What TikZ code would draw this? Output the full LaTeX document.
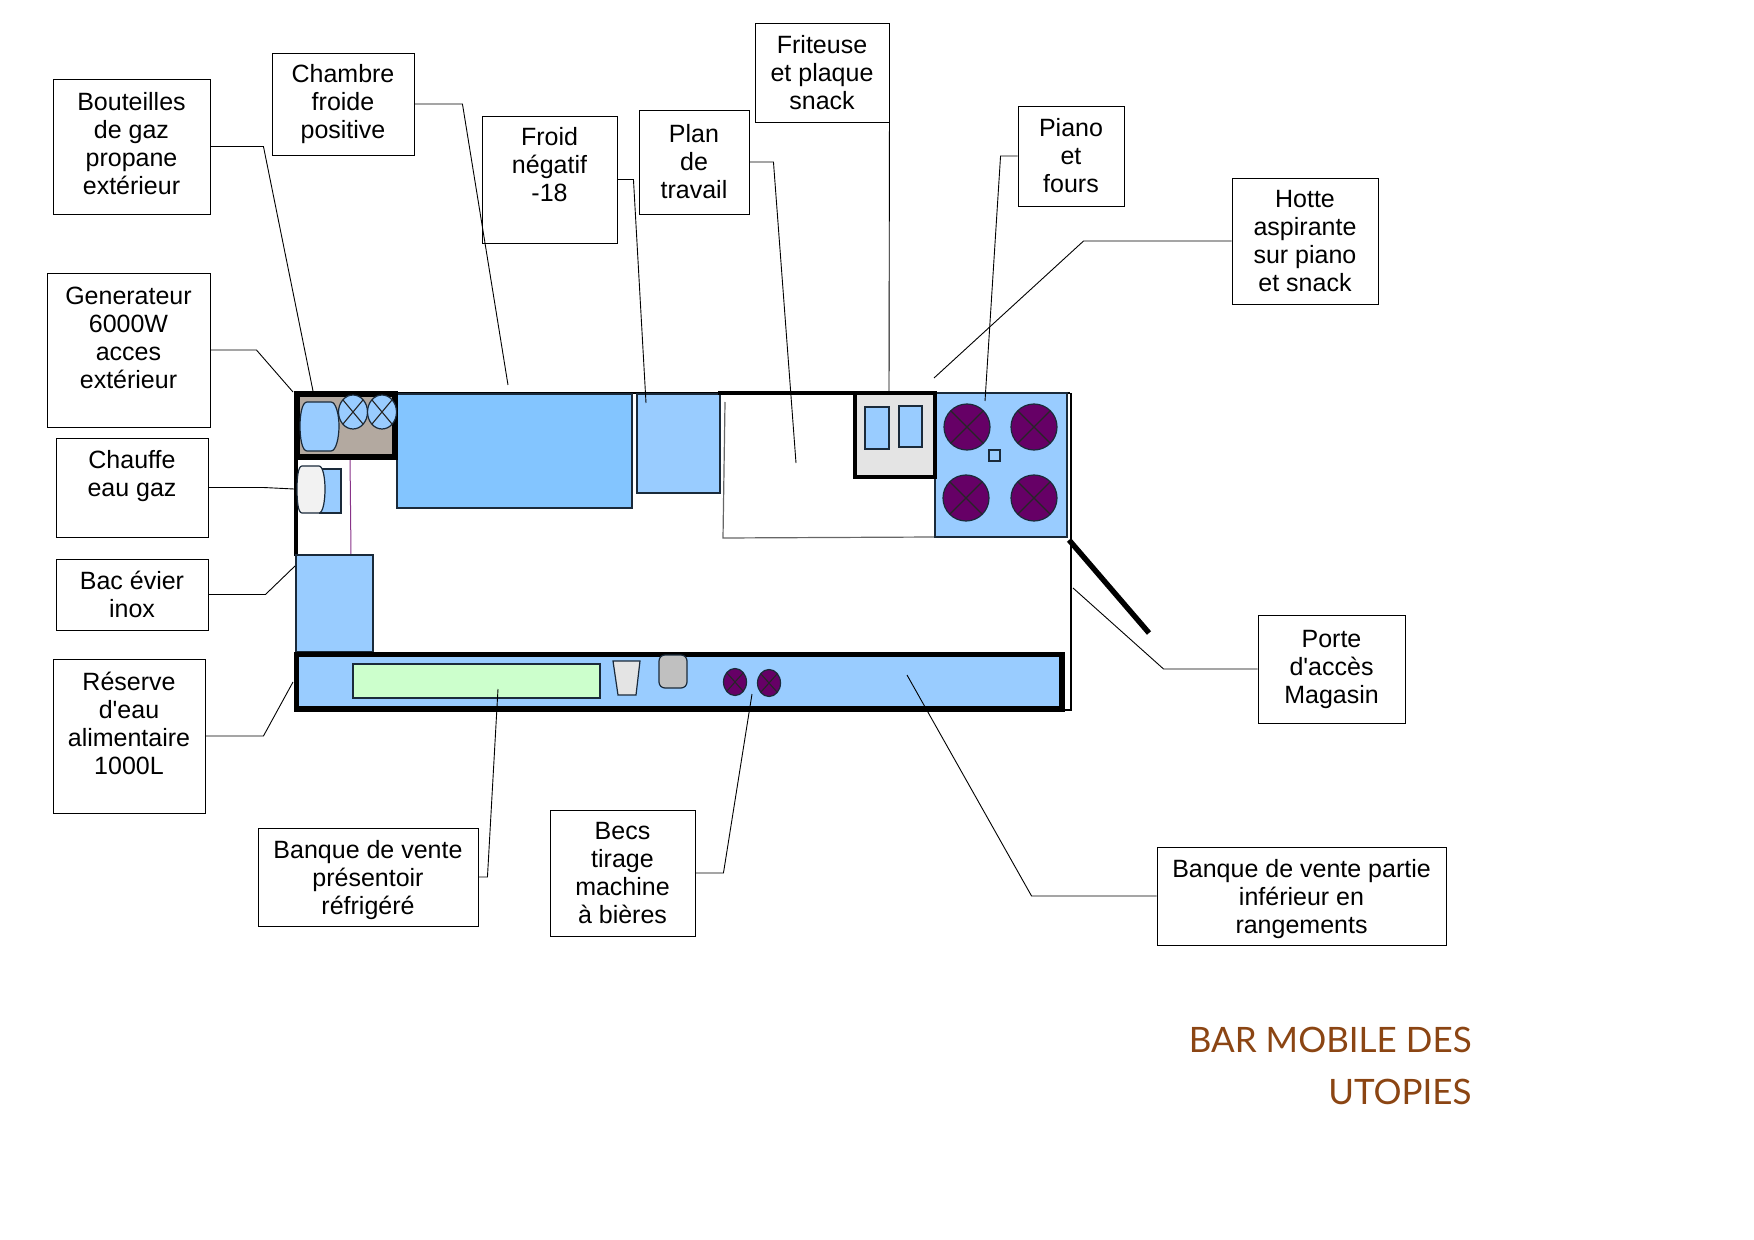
\documentclass[tikz,border=0pt]{standalone}
\usepackage{fontspec}
\newfontfamily\labelfont{Liberation Sans}
\newfontfamily\titlefont{Lato}
\usepackage{tikz}
\definecolor{wallline}{HTML}{1A2A3A}
\definecolor{paleblue}{HTML}{99CCFF}
\definecolor{coldblue}{HTML}{83C5FF}
\definecolor{taupe}{HTML}{B3A9A0}
\definecolor{palegrey}{HTML}{E4E4E4}
\definecolor{midgrey}{HTML}{C0C0C0}
\definecolor{palegreen}{HTML}{CCFFCC}
\definecolor{burner}{HTML}{660066}
\definecolor{pipe}{HTML}{883388}
\definecolor{titlebrown}{HTML}{8B4513}
\tikzset{
    callout/.style={draw=black,line width=0.45pt,fill=white,align=center,inner sep=0pt,
      font=\labelfont\fontsize{12.5}{14}\selectfont},
    leader/.style={draw=black,line width=0.45pt},
    furniture/.style={draw=wallline,line width=0.6pt,fill=paleblue},
    crossline/.style={draw=black!85,line width=0.55pt},
    thickwall/.style={draw=black,line width=2pt},
    heavywall/.style={draw=black,line width=2.7pt}
}
\begin{document}
\begin{tikzpicture}[x=0.5pt,y=-0.5pt]
    \useasboundingbox (0,0) rectangle (1754,1240);
    \draw[thickwall] (295.5,393) -- (295.5,556);
    \draw[line width=0.8pt] (295,393) -- (1070,393);
    \draw[line width=1.2pt] (1071,393) -- (1071,710) -- (1060,710);
    \draw[furniture,fill=coldblue] (397,394) rectangle (632,508);
    \draw[furniture] (637,394) rectangle (720,493);
    \draw[draw=black!60,line width=0.6pt] (725,402) -- (723,538) -- (935,537);
    \draw[furniture] (935,393) rectangle (1067,537);
    \draw[draw=pipe,line width=0.5pt] (350,457) -- (351,555);
    \draw[furniture] (296,555) rectangle (373,652);
    \draw[furniture] (320,469) rectangle (341,513);
    \draw[furniture,fill=palegrey!50] (302,466) -- (319,466) .. controls (323,466) and (325,478) .. (325,489)
      .. controls (325,501) and (323,513) .. (319,513) -- (302,513) .. controls (298,513) and (297,501) .. (297,489)
      .. controls (297,478) and (298,466) .. (302,466) -- cycle;
    \draw[thickwall,line width=2.6pt,fill=taupe] (297,394) rectangle (395,457);
    \draw[furniture] (307,402) -- (331,402) .. controls (336,402) and (339,415) .. (339,426)
      .. controls (339,438) and (336,451) .. (331,451) -- (307,451) .. controls (302,451) and (300,438) .. (300,426)
      .. controls (300,415) and (302,402) .. (307,402) -- cycle;
    \foreach \cx in {353,382} {
      \draw[furniture] (\cx,412) ellipse [x radius=14.5,y radius=17];
      \draw[crossline] (\cx-10,400) -- (\cx+10,424) (\cx-10,424) -- (\cx+10,400);
    }
    \draw[heavywall,fill=paleblue] (296.5,654.5) rectangle (1062,709);
    \draw[furniture,fill=palegreen] (353,664) rectangle (600,698);
    \draw[furniture,fill=palegrey] (613,661) -- (640,661) -- (636,695) -- (618,695) -- cycle;
    \draw[furniture,fill=midgrey,rounded corners=3pt] (659,655) rectangle (687,688);
    \foreach \cx/\cy in {735/682,769/683} {
      \draw[furniture,fill=burner] (\cx,\cy) ellipse [x radius=11.5,y radius=13.5];
      \draw[crossline] (\cx-8,\cy-9) -- (\cx+8,\cy+9) (\cx-8,\cy+9) -- (\cx+8,\cy-9);
    }
    \draw[thickwall,fill=palegrey] (855,393) rectangle (935,477);
    \draw[furniture] (865,407) rectangle (889,449);
    \draw[furniture] (899,406) rectangle (922,447);
    \draw[thickwall] (718,393) -- (935,393);
    \foreach \cx/\cy in {967/427,1034/427,966/498,1034/498} {
      \draw[furniture,fill=burner] (\cx,\cy) circle [radius=23];
      \draw[crossline] (\cx-16,\cy-16) -- (\cx+16,\cy+16) (\cx-16,\cy+16) -- (\cx+16,\cy-16);
    }
    \draw[furniture] (989,450) rectangle (1000,461);
    \draw[heavywall] (1069,540) -- (1149,633);

    \node[callout,minimum width=78.5pt,minimum height=67.5pt] (bouteilles) at (131.5,146.5) {Bouteilles\\de gaz\\propane\\extérieur\rule[-3.4pt]{0pt}{1pt}};
    \node[callout,minimum width=71pt,minimum height=51pt] (chambre) at (343,104) {Chambre\\froide\\positive};
    \node[callout,minimum width=67.5pt,minimum height=63.5pt] (froid) at (549.5,179.5) {Froid\\négatif\\-18\rule[-14.8pt]{0pt}{1pt}};
    \node[callout,minimum width=55pt,minimum height=52pt] (plan) at (694,162) {Plan\\de\\travail};
    \node[callout,minimum width=67pt,minimum height=49.5pt] (friteuse) at (822,72.5) {Friteuse\\et plaque\\snack};
    \node[callout,minimum width=53pt,minimum height=50pt] (piano) at (1071,156) {Piano\\et\\fours};
    \node[callout,minimum width=73pt,minimum height=63pt] (hotte) at (1305,241) {Hotte\\aspirante\\sur piano\\et snack};
    \node[callout,minimum width=81.5pt,minimum height=77pt] (generateur) at (128.5,350) {Generateur\\6000W\\acces\\extérieur\rule[-12.4pt]{0pt}{1pt}};
    \node[callout,minimum width=76pt,minimum height=49.5pt] (chauffe) at (132,487.5) {Chauffe\\eau gaz\rule[-13.8pt]{0pt}{1pt}};
    \node[callout,minimum width=76pt,minimum height=35.5pt] (bac) at (132,594.5) {Bac évier\\inox};
    \node[callout,minimum width=76pt,minimum height=77pt] (reserve) at (129,736) {Réserve\\d'eau\\alimentaire\\1000L\rule[-12.6pt]{0pt}{1pt}};
    \node[callout,minimum width=110pt,minimum height=49pt] (presentoir) at (368,877) {\rule{0pt}{12.4pt}Banque de vente\\présentoir\\réfrigéré};
    \node[callout,minimum width=72.5pt,minimum height=63pt] (becs) at (622.5,873) {Becs\\tirage\\machine\\à bières};
    \node[callout,minimum width=144.5pt,minimum height=49pt] (partie) at (1301.5,896) {\rule{0pt}{12.4pt}Banque de vente partie\\inférieur en\\rangements};
    \node[callout,minimum width=73.5pt,minimum height=54pt] (porte) at (1331.5,669) {Porte\\d'accès\\Magasin};

    \coordinate (bouteillesend) at (313,391);
    \coordinate (chambreend) at (508,385);
    \coordinate (froidend) at (646,403);
    \coordinate (planend) at (796,463);
    \coordinate (friteuseend) at (889,392);
    \coordinate (pianoend) at (985,401);
    \coordinate (hotteend) at (934,378);
    \coordinate (generateurend) at (293,392);
    \coordinate (chauffeend) at (294,489);
    \coordinate (bacend) at (295,566);
    \coordinate (reserveend) at (293,682);
    \coordinate (presentoirend) at (498,689);
    \coordinate (becsend) at (752,694);
    \coordinate (partieend) at (907,675);
    \coordinate (porteend) at (1073,588);

    \draw[leader] (bouteilles.east) -- ++(53,0) -- (bouteillesend);
    \draw[leader] (chambre.east) -- ++(48,0) -- (chambreend);
    \draw[leader] (froid.east) -- ++(16,0) -- (froidend);
    \draw[leader] (plan.east) -- ++(24,0) -- (planend);
    \draw[leader] (friteuse.south east) -- (friteuseend);
    \draw[leader] (piano.west) -- ++(-17,0) -- (pianoend);
    \draw[leader] (hotte.west) -- ++(-148,0) -- (hotteend);
    \draw[leader] (generateur.east) -- ++(46,0) -- (generateurend);
    \draw[leader] (chauffe.east) -- ++(55,0) -- (chauffeend);
    \draw[leader] (bac.east) -- ++(57,0) -- (bacend);
    \draw[leader] (reserve.east) -- ++(58,0) -- (reserveend);
    \draw[leader] (presentoir.east) -- ++(9,0) -- (presentoirend);
    \draw[leader] (becs.east) -- ++(28,0) -- (becsend);
    \draw[leader] (partie.west) -- ++(-125,0) -- (partieend);
    \draw[leader] (porte.west) -- ++(-94,0) -- (porteend);

    \node[anchor=east,align=right,inner sep=0pt,text=titlebrown,
      font=\titlefont\fontsize{17.5}{26}\selectfont] (title) at (1472,1066) {BAR MOBILE DES\\UTOPIES};
\end{tikzpicture}
\end{document}
